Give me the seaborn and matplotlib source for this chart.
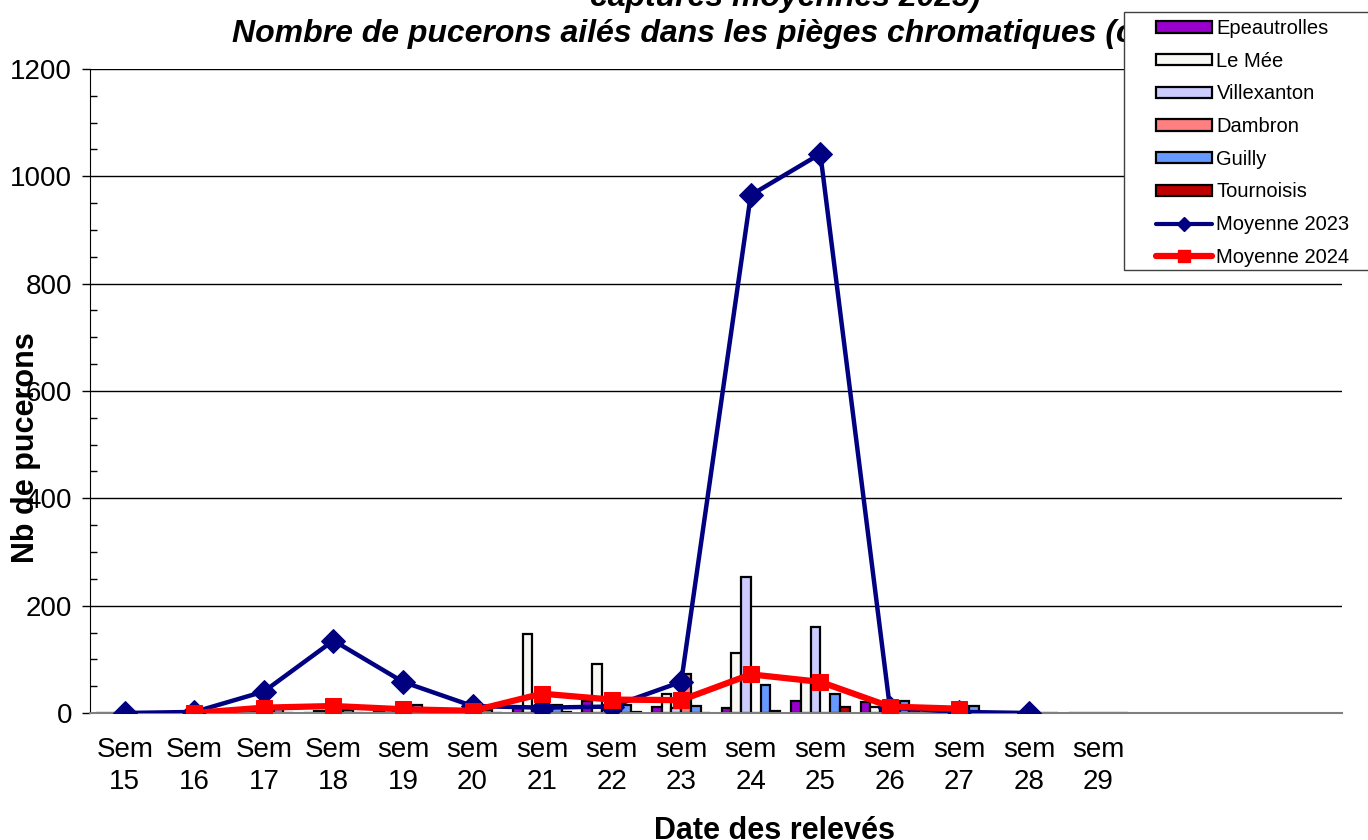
import numpy as np
import pandas as pd
import seaborn as sns
import matplotlib.pyplot as plt
from matplotlib.patches import Patch, Rectangle
from matplotlib.lines import Line2D
from matplotlib.ticker import MultipleLocator

# Week labels (18 slots on the axis, last three empty)
week_labels = ["Sem\n15", "Sem\n16", "Sem\n17", "Sem\n18", "sem\n19", "sem\n20",
               "sem\n21", "sem\n22", "sem\n23", "sem\n24", "sem\n25", "sem\n26",
               "sem\n27", "sem\n28", "sem\n29", "", "", ""]

sites = ["Epeautrolles", "Le Mée", "Villexanton", "Dambron", "Guilly", "Tournoisis"]
site_colors = ["#9900CC", "#F8F8F4", "#CCCCFF", "#FF8080", "#6699FF", "#C00000"]

# captures per site, Sem 15 -> sem 29
epeautrolles = [0, 0, 0, 0, 2, 1, 10, 23, 12, 10, 22, 21, 3, 0, 0]
le_mee       = [0, 0, 2, 3, 5, 2, 148, 91, 35, 112, 58, 12, 5, 0, 0]
villexanton  = [0, 0, 1, 2, 3, 2, 8, 10, 10, 254, 160, 5, 2, 0, 0]
dambron      = [0, 0, 0, 1, 2, 1, 5, 8, 72, 0, 0, 3, 1, 0, 0]
guilly       = [0, 0, 8, 6, 15, 5, 15, 15, 13, 52, 35, 23, 13, 0, 0]
tournoisis   = [0, 0, 0, 0, 1, 0, 2, 1, 0, 4, 12, 5, 2, 0, 0]

moyenne_2023 = [0, 2, 40, 135, 58, 13, 10, 12, 58, 965, 1042, 10, 2, 0, np.nan]
moyenne_2024 = [np.nan, 0, 10, 13, 7, 4, 36, 25, 24, 72, 58, 12, 8, np.nan, np.nan]

site_values = [epeautrolles, le_mee, villexanton, dambron, guilly, tournoisis]
rows = []
for site, vals in zip(sites, site_values):
    for i, v in enumerate(vals):
        rows.append({"week": i, "site": site, "value": v})
df = pd.DataFrame(rows)

sns.set_style("white")
plt.rcParams['font.family'] = ['Liberation Sans', 'DejaVu Sans']
plt.rcParams['text.color'] = 'black'
plt.rcParams['axes.labelcolor'] = 'black'
plt.rcParams['xtick.color'] = 'black'
plt.rcParams['ytick.color'] = 'black'

fig = plt.figure(figsize=(13.68, 8.4), dpi=100)
ax = fig.add_axes([90 / 1368, 1 - 713 / 840, 1252 / 1368, 644 / 840])

sns.barplot(data=df, x="week", y="value", hue="site", order=list(range(len(week_labels))),
            hue_order=sites, palette=site_colors, edgecolor="black", linewidth=1.6,
            width=0.84, saturation=1, errorbar=None, legend=False, ax=ax)

xs = np.arange(len(moyenne_2023))
sns.lineplot(x=xs, y=moyenne_2023, color="#000080", linewidth=3.2, marker="D",
             markersize=12, markeredgecolor="#000080", ax=ax, zorder=4)
xs24 = np.arange(len(moyenne_2024))
sns.lineplot(x=xs24, y=moyenne_2024, color="#FF0000", linewidth=4.5, marker="s",
             markersize=12, markeredgecolor="#FF0000", ax=ax, zorder=5)

ax.set_xlim(-0.5, len(week_labels) - 0.5)
ax.set_ylim(0, 1200)
ax.yaxis.set_major_locator(MultipleLocator(200))
ax.yaxis.set_minor_locator(MultipleLocator(50))
ax.grid(axis="y", which="major", color="black", linewidth=1)
ax.set_axisbelow(True)

ax.set_xticks(range(len(week_labels)))
ax.set_xticklabels(week_labels, fontsize=20, linespacing=1.32)
ax.set_xticks(np.arange(-0.5, len(week_labels), 1), minor=True)
ax.tick_params(axis="x", which="major", length=0, pad=17)
ax.tick_params(axis="x", which="minor", length=6, width=1, color="black", direction="out")
ax.tick_params(axis="y", which="major", labelsize=20, length=6, width=1, direction="out",
               left=True, pad=7)
ax.tick_params(axis="y", which="minor", length=5, width=1, direction="in", left=True)

for side in ["top", "right"]:
    ax.spines[side].set_visible(False)
ax.spines["left"].set_color("black")
ax.spines["bottom"].set_color("#808080")
ax.spines["bottom"].set_linewidth(1.5)

ax.set_xlabel("Date des relevés", fontsize=22, fontweight="bold")
ax.set_ylabel("Nb de pucerons", fontsize=22, fontweight="bold")
ax.xaxis.set_label_coords((775 - 90) / 1252, (713 - 816) / 644)
ax.yaxis.set_label_coords((41 - 90) / 1252, (713 - 448) / 644)

fig.text(785 / 1368, 1 - (-2) / 840, "captures moyennes 2023)", fontsize=23,
         fontweight="bold", fontstyle="italic", ha="center", va="center")
fig.text(232 / 1368, 1 - 34 / 840,
         "Nombre de pucerons ailés dans les pièges chromatiques (comparaison avec",
         fontsize=23, fontweight="bold", fontstyle="italic", ha="left", va="center")

# legend box drawn separately so the entries can sit where the reference has them
fig.patches.append(Rectangle((1124 / 1368, 1 - 270 / 840), 250 / 1368, 258 / 840,
                             transform=fig.transFigure, facecolor="white",
                             edgecolor="#404040", linewidth=1, zorder=8))

handles = [Patch(facecolor=c, edgecolor="black", linewidth=1.6, label=s)
           for s, c in zip(sites, site_colors)]
handles.append(Line2D([], [], color="#000080", linewidth=3, marker="D", markersize=7,
                      label="Moyenne 2023"))
handles.append(Line2D([], [], color="#FF0000", linewidth=4.5, marker="s", markersize=9,
                      label="Moyenne 2024"))
leg = fig.legend(handles=handles, loc="upper left", bbox_to_anchor=(1156 / 1368, 1 - 19 / 840),
                 fontsize=14.5, frameon=False, handlelength=2.8, handleheight=0.5,
                 labelspacing=0.68, borderpad=0, handletextpad=0.2, borderaxespad=0)
leg.set_zorder(10)

fig.savefig("out.png", dpi=100)
